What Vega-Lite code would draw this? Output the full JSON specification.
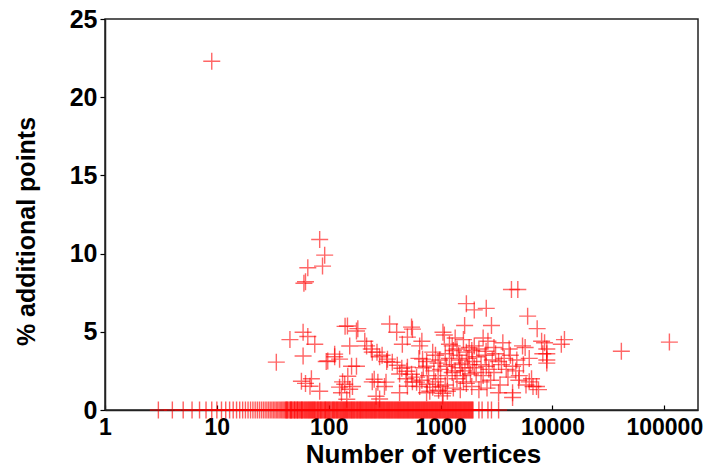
{
  "$schema": "https://vega.github.io/schema/vega-lite/v6.json",
  "width": 593,
  "height": 391,
  "autosize": "none",
  "padding": {"left": 105, "top": 19, "right": 6, "bottom": 58},
  "background": "white",
  "config": {
    "font": "Liberation Sans",
    "view": {"stroke": "#222222", "strokeWidth": 1.5}
  },
  "datasets": {
    "zeros": [
      {"x":3,"y":0},{"x":4,"y":0},{"x":5,"y":0},{"x":6,"y":0},{"x":7,"y":0},{"x":8,"y":0},{"x":9,"y":0},{"x":10,"y":0},
      {"x":11,"y":0},{"x":12,"y":0},{"x":13,"y":0},{"x":14,"y":0},{"x":15,"y":0},{"x":16,"y":0},{"x":17,"y":0},{"x":18,"y":0},
      {"x":19,"y":0},{"x":20,"y":0},{"x":21,"y":0},{"x":22,"y":0},{"x":23,"y":0},{"x":24,"y":0},{"x":25,"y":0},{"x":26,"y":0},
      {"x":27,"y":0},{"x":28,"y":0},{"x":29,"y":0},{"x":30,"y":0},{"x":31,"y":0},{"x":32,"y":0},{"x":33,"y":0},{"x":34,"y":0},
      {"x":35,"y":0},{"x":36,"y":0},{"x":37,"y":0},{"x":38,"y":0},{"x":39,"y":0},{"x":40,"y":0},
      {"x":41,"y":0},{"x":42,"y":0},{"x":43,"y":0},{"x":45,"y":0},{"x":46,"y":0},{"x":47,"y":0},{"x":49,"y":0},{"x":50,"y":0},
      {"x":52,"y":0},{"x":53,"y":0},{"x":55,"y":0},{"x":57,"y":0},{"x":58,"y":0},{"x":60,"y":0},{"x":62,"y":0},{"x":64,"y":0},
      {"x":66,"y":0},{"x":68,"y":0},{"x":70,"y":0},{"x":72,"y":0},{"x":74,"y":0},{"x":76,"y":0},{"x":79,"y":0},{"x":81,"y":0},
      {"x":84,"y":0},{"x":86,"y":0},{"x":89,"y":0},{"x":92,"y":0},{"x":94,"y":0},{"x":97,"y":0},{"x":100,"y":0},{"x":103,"y":0},
      {"x":107,"y":0},{"x":110,"y":0},{"x":113,"y":0},{"x":117,"y":0},{"x":120,"y":0},{"x":124,"y":0},{"x":128,"y":0},{"x":132,"y":0},
      {"x":136,"y":0},{"x":140,"y":0},{"x":144,"y":0},{"x":148,"y":0},{"x":153,"y":0},{"x":158,"y":0},{"x":162,"y":0},{"x":167,"y":0},
      {"x":172,"y":0},{"x":178,"y":0},{"x":183,"y":0},{"x":189,"y":0},{"x":194,"y":0},{"x":200,"y":0},{"x":206,"y":0},{"x":213,"y":0},
      {"x":219,"y":0},{"x":226,"y":0},{"x":233,"y":0},{"x":240,"y":0},{"x":247,"y":0},{"x":255,"y":0},{"x":262,"y":0},{"x":270,"y":0},
      {"x":279,"y":0},{"x":287,"y":0},{"x":296,"y":0},{"x":305,"y":0},{"x":314,"y":0},{"x":324,"y":0},{"x":334,"y":0},{"x":344,"y":0},
      {"x":354,"y":0},{"x":365,"y":0},{"x":376,"y":0},{"x":388,"y":0},{"x":400,"y":0},{"x":412,"y":0},{"x":424,"y":0},{"x":437,"y":0},
      {"x":450,"y":0},{"x":464,"y":0},{"x":478,"y":0},{"x":493,"y":0},{"x":508,"y":0},{"x":523,"y":0},{"x":539,"y":0},{"x":556,"y":0},
      {"x":572,"y":0},{"x":590,"y":0},{"x":608,"y":0},{"x":626,"y":0},{"x":645,"y":0},{"x":665,"y":0},{"x":685,"y":0},{"x":706,"y":0},
      {"x":727,"y":0},{"x":749,"y":0},{"x":772,"y":0},{"x":796,"y":0},{"x":820,"y":0},{"x":845,"y":0},{"x":870,"y":0},{"x":897,"y":0},
      {"x":924,"y":0},{"x":952,"y":0},{"x":981,"y":0},{"x":1010,"y":0},{"x":1041,"y":0},{"x":1073,"y":0},{"x":1105,"y":0},{"x":1139,"y":0},
      {"x":1173,"y":0},{"x":1209,"y":0},{"x":1245,"y":0},{"x":1283,"y":0},{"x":1322,"y":0},{"x":1362,"y":0},{"x":1403,"y":0},{"x":1446,"y":0},
      {"x":1490,"y":0},{"x":1535,"y":0},{"x":1582,"y":0},{"x":1630,"y":0},{"x":1679,"y":0},{"x":1730,"y":0},{"x":1783,"y":0},{"x":1837,"y":0},
      {"x":1893,"y":0},{"x":1950,"y":0},{"x":2200,"y":0},{"x":2350,"y":0},{"x":2650,"y":0},{"x":2850,"y":0},{"x":3300,"y":0},
      {"x":41.5,"y":0},{"x":42.5,"y":0},{"x":44,"y":0},{"x":45.5,"y":0},{"x":46.5,"y":0},{"x":48,"y":0},{"x":49.5,"y":0},{"x":51,"y":0},
      {"x":52.5,"y":0},{"x":54,"y":0},{"x":56,"y":0},{"x":57.5,"y":0},{"x":59,"y":0},{"x":61,"y":0},{"x":63,"y":0},{"x":65,"y":0},
      {"x":67,"y":0},{"x":69,"y":0},{"x":71,"y":0},{"x":73,"y":0},{"x":75,"y":0},{"x":77.5,"y":0},{"x":80,"y":0},{"x":82.5,"y":0},
      {"x":85,"y":0},{"x":87.5,"y":0},{"x":90.5,"y":0},{"x":93,"y":0},{"x":95.5,"y":0},{"x":98.5,"y":0},{"x":101.5,"y":0},{"x":105,"y":0},
      {"x":108.5,"y":0},{"x":111.5,"y":0},{"x":115,"y":0},{"x":118.5,"y":0},{"x":122,"y":0},{"x":126,"y":0},{"x":130,"y":0},{"x":134,"y":0},
      {"x":138,"y":0},{"x":142,"y":0},{"x":146,"y":0},{"x":150.5,"y":0},{"x":155.5,"y":0},{"x":160,"y":0},{"x":164.5,"y":0},{"x":169.5,"y":0},
      {"x":175,"y":0},{"x":180.5,"y":0},{"x":186,"y":0},{"x":191.5,"y":0},{"x":197,"y":0},{"x":203,"y":0},{"x":209.5,"y":0},{"x":216,"y":0},
      {"x":222.5,"y":0},{"x":229.5,"y":0},{"x":236.5,"y":0},{"x":243.5,"y":0},{"x":251,"y":0},{"x":258.5,"y":0},{"x":266,"y":0},{"x":274.5,"y":0},
      {"x":283,"y":0},{"x":291.5,"y":0},{"x":300.5,"y":0},{"x":309.5,"y":0},{"x":319,"y":0},{"x":329,"y":0},{"x":339,"y":0},{"x":349,"y":0},
      {"x":359.5,"y":0},{"x":370.5,"y":0},{"x":382,"y":0},{"x":394,"y":0},{"x":406,"y":0},{"x":418,"y":0},{"x":430.5,"y":0},{"x":443.5,"y":0},
      {"x":457,"y":0},{"x":471,"y":0},{"x":485.5,"y":0},{"x":500.5,"y":0},{"x":515.5,"y":0},{"x":531,"y":0},{"x":547.5,"y":0},{"x":564,"y":0},
      {"x":581,"y":0},{"x":599,"y":0},{"x":617,"y":0},{"x":635.5,"y":0},{"x":655,"y":0},{"x":675,"y":0},{"x":695.5,"y":0},{"x":716.5,"y":0},
      {"x":738,"y":0},{"x":760.5,"y":0},{"x":784,"y":0},{"x":808,"y":0},{"x":832.5,"y":0},{"x":857.5,"y":0},{"x":883.5,"y":0},{"x":910.5,"y":0},
      {"x":938,"y":0},{"x":966.5,"y":0},{"x":995.5,"y":0},{"x":1025.5,"y":0},{"x":1057,"y":0},{"x":1089,"y":0},{"x":1122,"y":0},{"x":1156,"y":0},
      {"x":1191,"y":0},{"x":1227,"y":0},{"x":1264,"y":0},{"x":1302.5,"y":0},{"x":1342,"y":0},{"x":1382.5,"y":0},{"x":1424.5,"y":0},{"x":1468,"y":0},
      {"x":1512.5,"y":0},{"x":1558.5,"y":0},{"x":1606,"y":0},{"x":1654.5,"y":0},{"x":1704.5,"y":0},{"x":1756.5,"y":0},{"x":1810,"y":0},{"x":1865,"y":0},
      {"x":1921.5,"y":0}
    ],
    "points": [
      {"x":9,"y":22.3},{"x":83,"y":10.9},{"x":92,"y":9.9},{"x":88,"y":9.2},{"x":65,"y":9.1},{"x":62,"y":8.2},{"x":60,"y":8.1},
      {"x":34,"y":3.06},{"x":45,"y":4.5},{"x":59,"y":4.97},{"x":65,"y":4.7},{"x":59,"y":3.45},{"x":57,"y":1.84},{"x":68,"y":1.52},
      {"x":83,"y":1.2},{"x":98,"y":3.13},{"x":113,"y":3.57},{"x":125,"y":3.25},{"x":147,"y":5.37},{"x":140,"y":5.35},{"x":177,"y":5.05},
      {"x":154,"y":4.09},{"x":177,"y":2.8},{"x":148,"y":2.16},{"x":139,"y":1.65},{"x":145,"y":0.69},{"x":125,"y":1.46},{"x":154,"y":1.33},
      {"x":130,"y":1.1},{"x":163,"y":1.5},{"x":133,"y":1.8},{"x":160,"y":2.8},{"x":95,"y":3.1},{"x":113,"y":3.4},{"x":182,"y":5.2},
      {"x":218,"y":4.1},{"x":245,"y":3.7},{"x":210,"y":4.4},{"x":62,"y":1.7},{"x":70,"y":2.0},{"x":75,"y":4.2},
      {"x":350,"y":5.5},{"x":405,"y":4.97},{"x":550,"y":5.3},{"x":505,"y":4.66},{"x":680,"y":4.4},{"x":1050,"y":4.97},
      {"x":240,"y":3.9},{"x":270,"y":3.7},{"x":300,"y":3.5},{"x":335,"y":3.25},{"x":370,"y":3.05},{"x":410,"y":2.86},{"x":450,"y":2.67},
      {"x":500,"y":2.48},{"x":550,"y":2.29},{"x":610,"y":2.1},{"x":680,"y":1.9},{"x":760,"y":1.65},{"x":850,"y":1.46},{"x":960,"y":1.26},
      {"x":1050,"y":1.07},{"x":255,"y":1.97},{"x":275,"y":1.78},{"x":325,"y":1.78},{"x":265,"y":0.88},{"x":505,"y":2.74},{"x":505,"y":1.52},
      {"x":690,"y":3.25},{"x":750,"y":2.8},{"x":610,"y":1.78},{"x":285,"y":3.4},{"x":330,"y":3.1},{"x":430,"y":2.3},{"x":490,"y":2.0},
      {"x":560,"y":1.8},{"x":650,"y":1.5},{"x":800,"y":1.2},{"x":315,"y":1.5},{"x":245,"y":1.8},{"x":285,"y":0.7},{"x":430,"y":1.1},
      {"x":650,"y":4.1},{"x":750,"y":3.1},{"x":850,"y":3.7},{"x":1080,"y":4.8},{"x":1270,"y":4.1},{"x":980,"y":3.2},{"x":1130,"y":2.8},
      {"x":1480,"y":3.2},{"x":1700,"y":3.7},{"x":1930,"y":3.1},{"x":1270,"y":2.4},{"x":1580,"y":2.2},{"x":2080,"y":2.4},{"x":2560,"y":2.8},
      {"x":2900,"y":3.2},{"x":3300,"y":3.1},{"x":3860,"y":2.6},{"x":4400,"y":2.8},{"x":5050,"y":2.2},{"x":6200,"y":1.8},{"x":7200,"y":1.5},
      {"x":1700,"y":6.8},{"x":2000,"y":6.4},{"x":2560,"y":6.5},{"x":1640,"y":5.4},{"x":2850,"y":5.4},{"x":4300,"y":7.7},{"x":4900,"y":7.7},
      {"x":6000,"y":6.0},{"x":7300,"y":5.2},{"x":8500,"y":4.3},{"x":8900,"y":3.2},{"x":12800,"y":4.5},{"x":12000,"y":4.2},{"x":5400,"y":4.1},
      {"x":5700,"y":4.0},{"x":4400,"y":1.1},{"x":3300,"y":1.1},{"x":1040,"y":0.9},{"x":750,"y":1.1},{"x":2200,"y":1.3},{"x":41300,"y":3.76},
      {"x":111000,"y":4.34},{"x":8900,"y":3.9},{"x":8900,"y":3.6},{"x":8900,"y":3.0},{"x":8000,"y":4.4},{"x":6700,"y":1.5},{"x":4400,"y":0.8},
      {"x":455,"y":4.2},{"x":560,"y":5.17},{"x":2200,"y":3.9},{"x":2550,"y":3.76},
      {"x":900,"y":3.5},{"x":950,"y":3.0},{"x":1000,"y":2.6},{"x":1100,"y":3.6},{"x":1150,"y":2.2},{"x":1200,"y":3.3},{"x":1250,"y":2.9},
      {"x":1300,"y":3.8},{"x":1350,"y":2.5},{"x":1400,"y":2.0},{"x":1450,"y":3.5},{"x":1500,"y":2.7},{"x":1550,"y":3.0},{"x":1600,"y":1.8},
      {"x":1650,"y":2.5},{"x":1750,"y":3.3},{"x":1800,"y":2.9},{"x":1850,"y":2.3},{"x":1900,"y":3.8},{"x":2000,"y":2.7},{"x":2100,"y":3.4},
      {"x":2300,"y":2.9},{"x":2400,"y":2.2},{"x":2500,"y":3.5},{"x":2700,"y":2.6},{"x":3000,"y":2.4},{"x":3100,"y":3.6},{"x":3500,"y":2.9},
      {"x":3700,"y":3.3},{"x":4000,"y":2.1},{"x":4200,"y":3.5},{"x":4700,"y":2.5},{"x":5500,"y":2.9},{"x":1100,"y":1.6},{"x":1300,"y":1.4},
      {"x":1700,"y":1.7},{"x":2300,"y":1.8},{"x":2800,"y":1.9},{"x":3400,"y":1.6},{"x":1200,"y":4.2},{"x":1600,"y":4.5},{"x":2000,"y":4.1},
      {"x":2400,"y":4.6},{"x":1400,"y":3.9},{"x":1800,"y":4.0},{"x":950,"y":2.0},{"x":870,"y":2.5},{"x":780,"y":2.2},{"x":700,"y":2.7},
      {"x":640,"y":3.3},{"x":900,"y":1.8},{"x":1000,"y":1.5},{"x":1150,"y":1.2},{"x":1500,"y":1.3},{"x":3000,"y":4.0},{"x":3600,"y":4.3},
      {"x":4100,"y":3.9},{"x":2650,"y":4.4},{"x":1350,"y":4.6},{"x":1900,"y":1.5},{"x":2600,"y":1.4},{"x":5000,"y":1.9},{"x":5800,"y":1.6},
      {"x":6500,"y":2.0},{"x":7500,"y":1.3},{"x":8200,"y":3.6},{"x":6200,"y":3.3},{"x":4800,"y":3.2}
    ]
  },
  "layer": [
    {
      "data": {"name": "zeros"},
      "mark": {
        "type": "point",
        "shape": "M-1,0H1M0,-1V1",
        "filled": false,
        "stroke": "#ff0000",
        "strokeWidth": 1.4,
        "strokeOpacity": 0.9,
        "size": 289,
        "clip": false
      },
      "encoding": {
        "x": {
          "field": "x",
          "type": "quantitative",
          "scale": {"type": "log", "domain": [1, 200000], "nice": false},
          "axis": {
            "values": [1, 10, 100, 1000, 10000, 100000],
            "format": "d",
            "grid": false,
            "title": "Number of vertices",
            "titleFont": "Liberation Sans",
            "titleFontSize": 26,
            "titleFontWeight": "bold",
            "titleColor": "black",
            "titleX": 318,
            "titleY": 57,
            "titleBaseline": "bottom",
            "labelFont": "Liberation Sans",
            "labelFontSize": 23,
            "labelFontWeight": "bold",
            "labelColor": "black",
            "labelPadding": 11,
            "labelFlush": false,
            "labelOverlap": false,
            "tickSize": -5,
            "tickColor": "black",
            "tickWidth": 1.2,
            "domainColor": "#222222",
            "domainWidth": 1.5
          }
        },
        "y": {
          "field": "y",
          "type": "quantitative",
          "scale": {"domain": [0, 25], "nice": false},
          "axis": {
            "values": [0, 5, 10, 15, 20, 25],
            "grid": false,
            "title": "% additional points",
            "titleFont": "Liberation Sans",
            "titleFontSize": 25,
            "titleFontWeight": "bold",
            "titleColor": "black",
            "titleY": 212,
            "titleX": -71,
            "titleBaseline": "alphabetic",
            "labelFont": "Liberation Sans",
            "labelFontSize": 25,
            "labelFontWeight": "bold",
            "labelColor": "black",
            "labelPadding": 3,
            "labelFlush": false,
            "tickSize": 5,
            "tickColor": "black",
            "tickWidth": 1.2,
            "domainColor": "#222222",
            "domainWidth": 1.5
          }
        }
      }
    },
    {
      "data": {"name": "points"},
      "mark": {
        "type": "point",
        "shape": "M-1,0H1M0,-1V1",
        "filled": false,
        "stroke": "#ff0000",
        "strokeWidth": 1.4,
        "strokeOpacity": 0.85,
        "size": 289,
        "clip": false
      },
      "encoding": {
        "x": {"field": "x", "type": "quantitative"},
        "y": {"field": "y", "type": "quantitative"}
      }
    }
  ]
}
